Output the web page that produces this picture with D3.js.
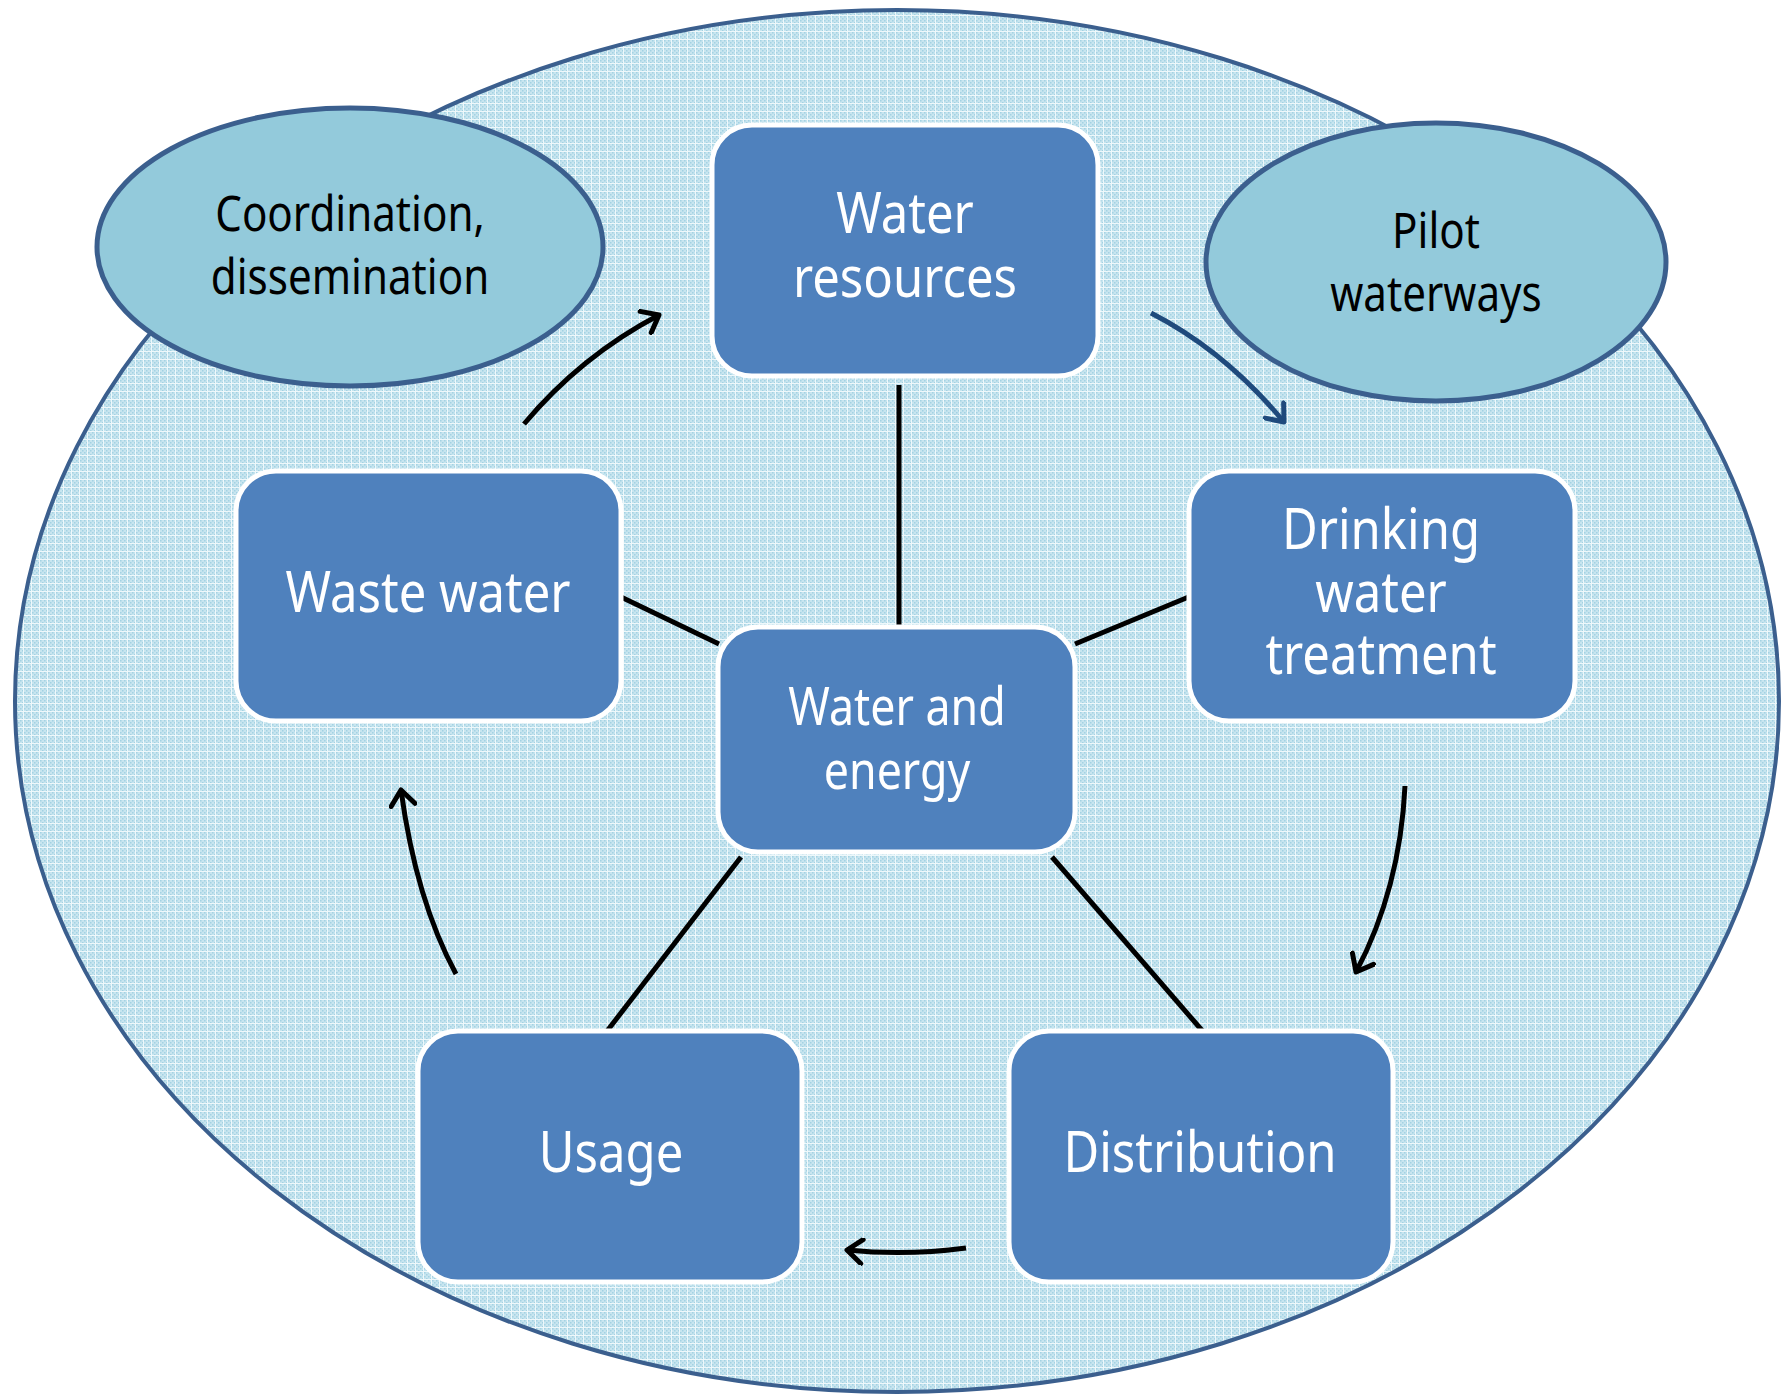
<!DOCTYPE html>
<html>
<head>
<meta charset="utf-8">
<script src="https://cdn.jsdelivr.net/npm/d3@7"></script>
<style>
  body { margin: 0; background: #fff; }
  svg text { font-family: "Noto Sans", "Open Sans", sans-serif; }
</style>
</head>
<body>
<svg id="chart" width="1787" height="1395"></svg>
<script>
// labels
var boxLabels = [
    ["Water", "resources"],
    ["Drinking", "water", "treatment"],
    ["Distribution"],
    ["Usage"],
    ["Waste water"],
    ["Water and", "energy"]
];
var ovalLabels = [
    ["Coordination,", "dissemination"],
    ["Pilot", "waterways"]
];

// layout (pixels)
var boxPos = [
    {x: 712, y: 125, w: 386, h: 251},
    {x: 1189, y: 471, w: 386, h: 250},
    {x: 1009, y: 1031, w: 384, h: 251},
    {x: 418, y: 1031, w: 384, h: 251},
    {x: 236, y: 471, w: 385, h: 250},
    {x: 718, y: 627, w: 357, h: 225}
];
var boxText = [
    {cx: 905, y: [211, 275], size: 57},
    {cx: 1381, y: [527, 590, 652], size: 57},
    {cx: 1200, y: [1150], size: 57},
    {cx: 611, y: [1150], size: 57},
    {cx: 428, y: [590], size: 57},
    {cx: 897, y: [705, 769], size: 52}
];
var ovalPos = [
    {cx: 350, cy: 247, rx: 253, ry: 139, ty: [212, 275]},
    {cx: 1436, cy: 262, rx: 230, ry: 139, ty: [229, 292]}
];
// spokes: hub edge point -> box edge point
var spokes = [
    [[899, 627], [899, 385]],
    [[1075, 644], [1191, 596]],
    [[1052, 857], [1206, 1035]],
    [[741, 857], [604, 1035]],
    [[719, 644], [621, 597]]
];
// curved arrows: start, control, end, colour
var arrows = [
    {p: [[1151, 313], [1225, 351], [1284, 422]], c: "#1f4a7c"},
    {p: [[1405, 786], [1400, 889], [1356, 972]], c: "#000"},
    {p: [[966, 1248], [906, 1256], [847, 1250]], c: "#000"},
    {p: [[456, 974], [416, 900], [401, 790]], c: "#000"},
    {p: [[524, 424], [581, 356], [659, 315]], c: "#000"}
];

var condense = 0.86;
var svg = d3.select("#chart");
var defs = svg.append("defs");

// dotted texture of the big oval
var pat = defs.append("pattern")
    .attr("id", "dots")
    .attr("patternUnits", "userSpaceOnUse")
    .attr("width", 8).attr("height", 8);
pat.append("rect").attr("width", 8).attr("height", 8).attr("fill", "#c8e5ef");
[[0, 0], [2, 2], [4, 0], [6, 2], [0, 4], [2, 6], [4, 4], [6, 6]].forEach(function(d) {
    pat.append("rect").attr("x", d[0]).attr("y", d[1]).attr("width", 1.5).attr("height", 1.5).attr("fill", "#a3d2e3");
});
pat.append("rect").attr("x", 0).attr("y", 7).attr("width", 8).attr("height", 1).attr("fill", "#eef8fb");
pat.append("rect").attr("x", 7).attr("y", 0).attr("width", 1).attr("height", 8).attr("fill", "#eef8fb");

arrows.forEach(function(a, i) {
    defs.append("marker")
        .attr("id", "head" + i)
        .attr("markerUnits", "userSpaceOnUse")
        .attr("viewBox", "-20 -14 24 28")
        .attr("markerWidth", 24).attr("markerHeight", 28)
        .attr("refX", 0).attr("refY", 0)
        .attr("orient", "auto")
        .append("path")
        .attr("d", "M-15,-12 L0,0 L-15,12")
        .attr("fill", "none")
        .attr("stroke", a.c)
        .attr("stroke-width", 5)
        .attr("stroke-linecap", "round")
        .attr("stroke-linejoin", "round");
});

// big background oval
svg.append("ellipse")
    .attr("cx", 897).attr("cy", 701)
    .attr("rx", 882).attr("ry", 691)
    .attr("fill", "url(#dots)")
    .attr("stroke", "#3b5f8e")
    .attr("stroke-width", 4);

// side ovals
var ov = svg.selectAll("g.oval").data(ovalLabels).enter().append("g").attr("class", "oval");
ov.append("ellipse")
    .attr("cx", function(d, i) { return ovalPos[i].cx; })
    .attr("cy", function(d, i) { return ovalPos[i].cy; })
    .attr("rx", function(d, i) { return ovalPos[i].rx; })
    .attr("ry", function(d, i) { return ovalPos[i].ry; })
    .attr("fill", "#93cadb")
    .attr("stroke", "#3b5f8e")
    .attr("stroke-width", 5);
ov.each(function(lines, i) {
    var g = d3.select(this).append("g")
        .attr("transform", "translate(" + ovalPos[i].cx + ",0) scale(" + condense + ",1)");
    lines.forEach(function(t, j) {
        g.append("text")
            .attr("x", 0).attr("y", ovalPos[i].ty[j])
            .attr("text-anchor", "middle")
            .attr("dominant-baseline", "central")
            .attr("font-size", 49)
            .attr("fill", "#000")
            .text(t);
    });
});

// spokes from the hub
var line = d3.line();
svg.selectAll("path.spoke").data(spokes).enter().append("path")
    .attr("class", "spoke")
    .attr("d", function(d) { return line(d); })
    .attr("stroke", "#000")
    .attr("stroke-width", 5)
    .attr("fill", "none");

// cycle arrows
svg.selectAll("path.arrow").data(arrows).enter().append("path")
    .attr("class", "arrow")
    .attr("d", function(d) {
        var p = d3.path();
        p.moveTo(d.p[0][0], d.p[0][1]);
        p.quadraticCurveTo(d.p[1][0], d.p[1][1], d.p[2][0], d.p[2][1]);
        return p.toString();
    })
    .attr("fill", "none")
    .attr("stroke", function(d) { return d.c; })
    .attr("stroke-width", 5)
    .attr("marker-end", function(d, i) { return "url(#head" + i + ")"; });

// boxes
var bx = svg.selectAll("g.box").data(boxLabels).enter().append("g").attr("class", "box");
bx.append("rect")
    .attr("x", function(d, i) { return boxPos[i].x; })
    .attr("y", function(d, i) { return boxPos[i].y; })
    .attr("width", function(d, i) { return boxPos[i].w; })
    .attr("height", function(d, i) { return boxPos[i].h; })
    .attr("rx", 40).attr("ry", 40)
    .attr("fill", "#4f81bd")
    .attr("stroke", "#fff")
    .attr("stroke-width", 5);
bx.each(function(lines, i) {
    var g = d3.select(this).append("g")
        .attr("transform", "translate(" + boxText[i].cx + ",0) scale(" + condense + ",1)");
    lines.forEach(function(t, j) {
        g.append("text")
            .attr("x", 0).attr("y", boxText[i].y[j])
            .attr("text-anchor", "middle")
            .attr("dominant-baseline", "central")
            .attr("font-size", boxText[i].size)
            .attr("fill", "#fff")
            .text(t);
    });
});
</script>
</body>
</html>
